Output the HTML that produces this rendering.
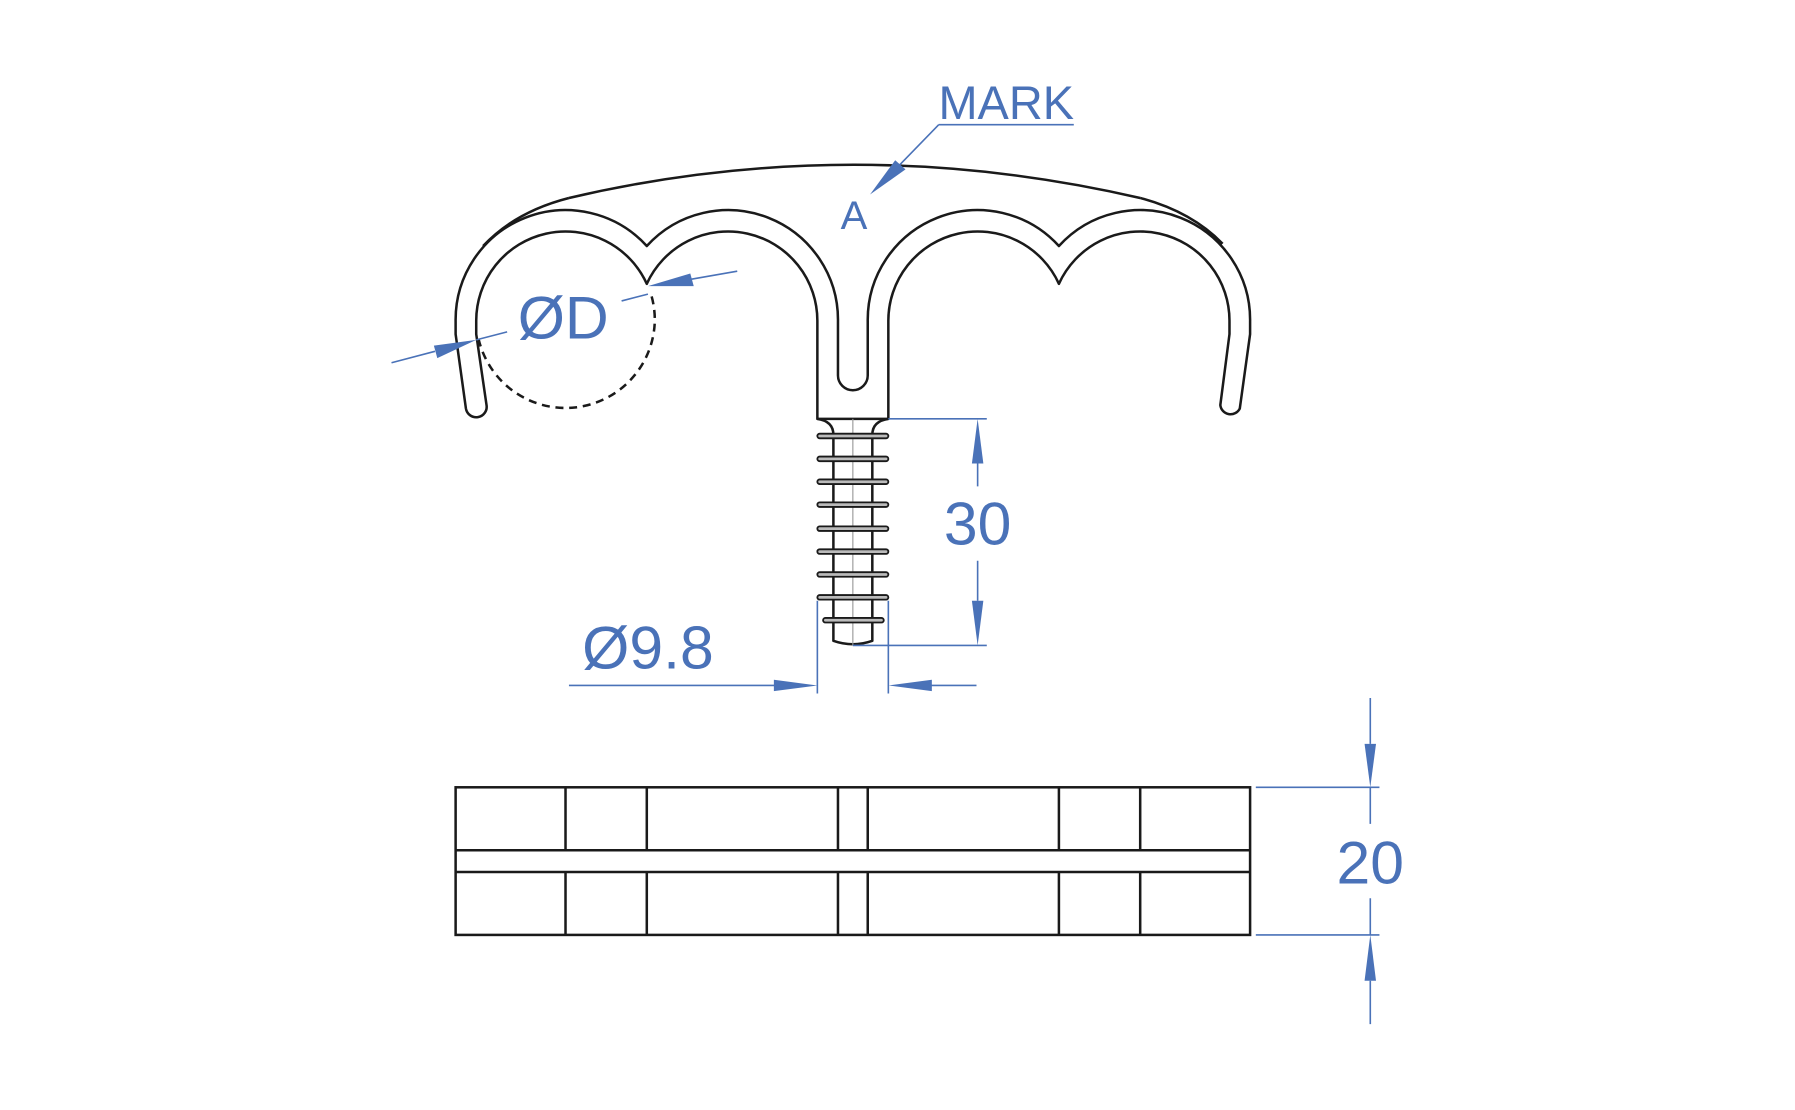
<!DOCTYPE html>
<html><head><meta charset="utf-8"><style>html,body{margin:0;padding:0;background:#fff}svg{display:block}</style></head><body>
<svg width="1795" height="1110" viewBox="0 0 1568 970" preserveAspectRatio="none" xmlns="http://www.w3.org/2000/svg">
<g fill="none" stroke="#1a1a1a" stroke-width="2.2" stroke-linejoin="round">
<path d="M497,173 Q745,115 996,173"/>
<path d="M497,173 Q450,185 422,215"/>
<path d="M996,173 Q1041,185 1068,213"/>
<path d="M407,357 L398,292 L398,281 A96,96 0 0 1 565,215 A96,96 0 0 1 732,281 L732,328 A13,13 0 0 0 758,328 L758,281 A96,96 0 0 1 925,215 A96,96 0 0 1 1092,281 L1092,292 L1083,357 A9,9 0 0 1 1066,354 L1074,292 L1074,281 A78,78 0 0 0 925,248 A78,78 0 0 0 776,281 L776,366 L714,366 L714,281 A78,78 0 0 0 565,248 A78,78 0 0 0 416,281 L416,292 L425,354 A9,9 0 0 1 407,357 Z"/>
<path d="M418,296 A78,78 0 0 0 572,280 A78,78 0 0 0 568,255" stroke-dasharray="7,5"/>
<path d="M714,366 Q728,368 728,380 M776,366 Q762,368 762,380"/>
<path d="M728,380 L728,560 Q745,566 762,560 L762,380"/>
</g>
<line x1="745" y1="366" x2="745" y2="564" stroke="#999" stroke-width="1"/>
<g fill="#bbb" stroke="#1a1a1a" stroke-width="1.6">
<rect x="714" y="379" width="62" height="4" rx="2"/>
<rect x="714" y="399" width="62" height="4" rx="2"/>
<rect x="714" y="419" width="62" height="4" rx="2"/>
<rect x="714" y="439" width="62" height="4" rx="2"/>
<rect x="714" y="460" width="62" height="4" rx="2"/>
<rect x="714" y="480" width="62" height="4" rx="2"/>
<rect x="714" y="500" width="62" height="4" rx="2"/>
<rect x="714" y="520" width="62" height="4" rx="2"/>
<rect x="719" y="540" width="53" height="4" rx="2"/>
</g>
<g fill="none" stroke="#1a1a1a" stroke-width="2.2">
<rect x="398" y="688" width="694" height="129"/>
<line x1="398" y1="743" x2="1092" y2="743"/>
<line x1="398" y1="762" x2="1092" y2="762"/>
<path d="M494,688V743M565,688V743M732,688V743M758,688V743M925,688V743M996,688V743M494,762V817M565,762V817M732,762V817M758,762V817M925,762V817M996,762V817"/>
</g>
<g stroke="#4a72b8" stroke-width="1.4" fill="none">
<path d="M776,366H862M745,564H862M854,405V425M854,490V525"/>
<path d="M714,525V606M776,525V606M497,599H680M853,599H810"/>
<path d="M1097,688H1205M1097,817H1205M1197,610V650M1197,688V720M1197,785V817M1197,857V895"/>
<path d="M820,109H938M820,109L785,145"/>
<path d="M342,317L380,307M416,297L443,290M543,263L566,257M604,244L644,237"/>
</g>
<g fill="#4a72b8">
<polygon points="854,366 849,405 859,405"/>
<polygon points="854,564 849,525 859,525"/>
<polygon points="714,599 676,594 676,604"/>
<polygon points="776,599 814,594 814,604"/>
<polygon points="1197,688 1192,650 1202,650"/>
<polygon points="1197,817 1192,857 1202,857"/>
<polygon points="760,170 782,140 791,148"/>
<polygon points="416,297 379,302 382,313"/>
<polygon points="566,250 603,239 606,250"/>
</g>
<g fill="#4a72b8" font-family="Liberation Sans, sans-serif" text-anchor="middle">
<text x="879" y="104" font-size="41">MARK</text>
<text x="746" y="200" font-size="35">A</text>
<text x="492" y="296" font-size="53">ØD</text>
<text x="854" y="476" font-size="53">30</text>
<text x="566" y="584" font-size="53">Ø9.8</text>
<text x="1197" y="772" font-size="53">20</text>
</g>
</svg>
</body></html>
